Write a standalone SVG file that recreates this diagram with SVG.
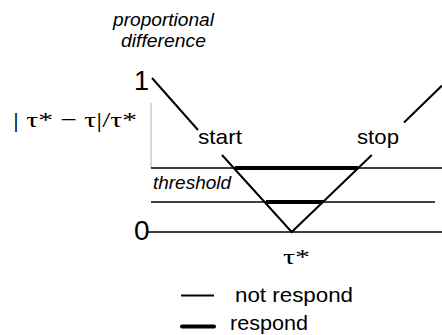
<svg xmlns="http://www.w3.org/2000/svg" width="442" height="335" viewBox="0 0 442 335">
<style>
.sans{font-family:"Liberation Sans",Arial,sans-serif;fill:#000}
.it{font-style:italic}
.serif{font-family:"Liberation Serif","Times New Roman",serif;fill:#000}
.thin{stroke:#000;stroke-width:1.6;fill:none}
.arm{stroke:#000;stroke-width:2;fill:none}
.thick{stroke:#000;stroke-width:4;fill:none}
</style>
<rect width="442" height="335" fill="#fff"/>
<g id="axis">
<line x1="151" y1="103" x2="151" y2="168" stroke="#999" stroke-width="0.8"/>
<text class="sans it" x="113" y="26" font-size="19" textLength="101" lengthAdjust="spacingAndGlyphs">proportional</text>
<text class="sans it" x="121" y="47" font-size="19" textLength="85" lengthAdjust="spacingAndGlyphs">difference</text>
<text class="sans" x="134" y="90" font-size="27">1</text>
<text class="sans" x="134" y="240" font-size="28">0</text>
<text class="serif" x="13" y="127" font-size="22" textLength="124" lengthAdjust="spacingAndGlyphs">| τ* − τ|/τ*</text>
</g>
<g id="levels">
<line class="thin" x1="151" y1="168" x2="442" y2="168"/>
<line class="thin" x1="151" y1="202" x2="435" y2="202"/>
<line class="thin" x1="148" y1="232" x2="442" y2="232"/>
<line class="thick" x1="235" y1="168" x2="358" y2="168"/>
<line class="thick" x1="266" y1="202" x2="323" y2="202"/>
<text class="sans it" x="153" y="189" font-size="19" textLength="78" lengthAdjust="spacingAndGlyphs">threshold</text>
</g>
<g id="connectors">
<line class="arm" x1="152" y1="78" x2="198" y2="130"/>
<polyline class="arm" points="222,155 291.7,232 371.8,155"/>
<line class="arm" x1="404" y1="122.5" x2="442" y2="85.5"/>
</g>
<g id="labels">
<text class="sans" x="198" y="144" font-size="21" textLength="44" lengthAdjust="spacingAndGlyphs">start</text>
<text class="sans" x="357" y="144" font-size="21" textLength="42" lengthAdjust="spacingAndGlyphs">stop</text>
<text class="serif" x="283" y="264" font-size="22" textLength="27" lengthAdjust="spacingAndGlyphs">τ*</text>
</g>
<g id="legend">
<line x1="181" y1="295.5" x2="214" y2="295.5" stroke="#000" stroke-width="2"/>
<line class="thick" x1="182" y1="326.5" x2="214" y2="326.5" stroke-linecap="round"/>
<text class="sans" x="235" y="302" font-size="20" textLength="118" lengthAdjust="spacingAndGlyphs">not respond</text>
<text class="sans" x="230" y="330" font-size="20" textLength="78" lengthAdjust="spacingAndGlyphs">respond</text>
</g>
</svg>
